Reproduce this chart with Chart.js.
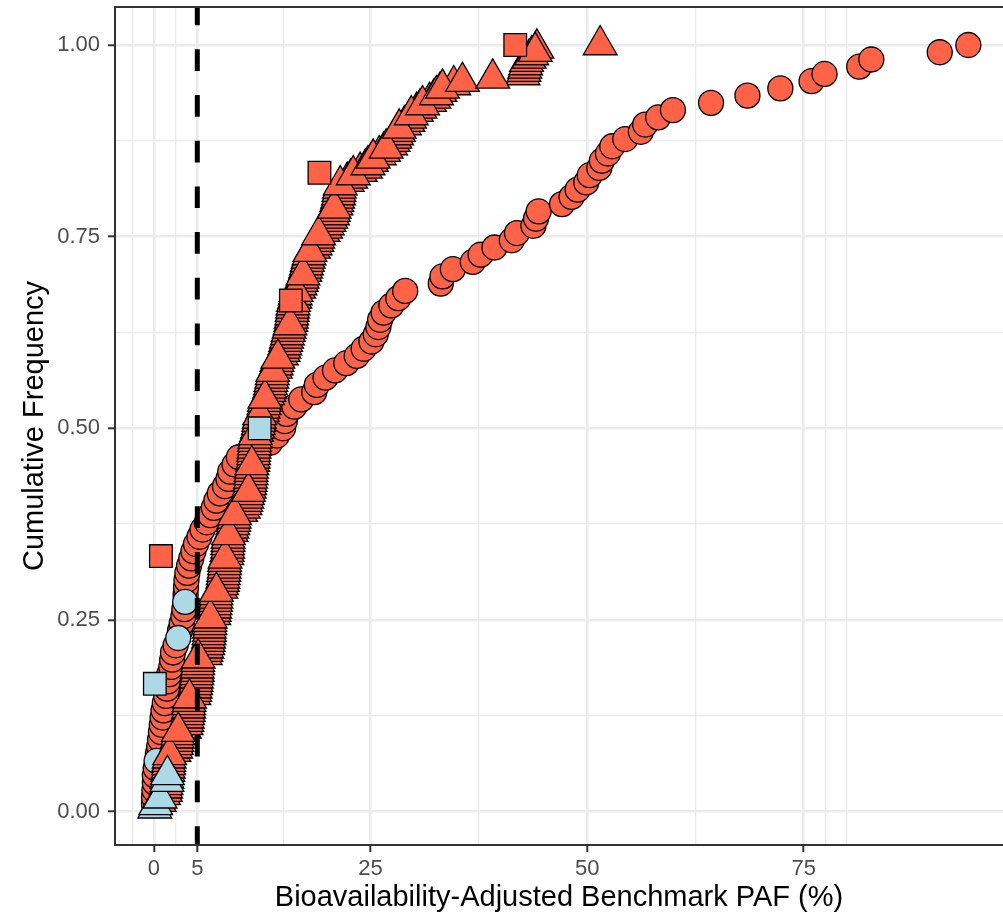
<!DOCTYPE html>
<html>
<head>
<meta charset="utf-8">
<script src="https://cdn.jsdelivr.net/npm/chart.js@4.4.1/dist/chart.umd.min.js"></script>
<style>
  html, body { margin: 0; padding: 0; background: #fff; overflow: hidden; }
  canvas { display: block; }
</style>
</head>
<body>
<canvas id="myChart" width="1003" height="914"></canvas>
<script>
// PAF values per shape group, sorted (cumulative frequency = rank / n)
const circleX = [
    0.0, 0.0, 0.05, 0.1, 0.1, 0.2, 0.3, 0.45, 0.6, 0.7,
    0.8, 0.9, 1.0, 1.1, 1.25, 1.4, 1.5, 1.6, 1.75, 2.0,
    2.1, 2.2, 2.5, 2.8, 3.0, 3.2, 3.4, 3.5, 3.6, 3.65,
    3.7, 3.75, 3.85, 4.05, 4.3, 4.55, 4.85, 5.25, 5.6, 6.1,
    6.5, 6.9, 7.2, 7.6, 8.2, 8.6, 8.8, 9.3, 9.8, 11.2,
    13.4, 14.2, 14.9, 15.1, 15.3, 16.2, 17.0, 18.5, 18.8, 19.8,
    20.9, 22.2, 23.4, 24.2, 25.1, 25.6, 25.9, 26.1, 26.5, 27.4,
    28.2, 29.0, 33.1, 33.3, 34.5, 36.8, 37.7, 39.3, 41.3, 41.9,
    43.8, 44.1, 44.4, 47.1, 48.2, 48.9, 49.9, 50.3, 51.4, 51.7,
    52.4, 52.9, 54.4, 56.2, 56.7, 58.2, 59.9, 64.3, 68.5, 72.3,
    75.9, 77.4, 81.4, 82.8, 90.7, 94.0
];
const circleBlue = [6, 23, 28]; // indices drawn light blue

const triangleX = [
    0.1, 0.2, 0.6, 0.7, 1.1, 1.3, 1.35, 1.4, 1.5, 1.5,
    1.55, 1.6, 1.65, 1.7, 1.7, 1.75, 1.8, 2.3, 2.5, 2.6,
    2.65, 2.7, 2.75, 2.8, 3.5, 3.7, 3.8, 3.85, 3.9, 3.95,
    4.0, 4.0, 4.05, 4.1, 4.6, 4.7, 4.75, 4.8, 4.85, 4.9,
    4.95, 5.0, 5.0, 5.05, 5.05, 5.1, 5.9, 6.0, 6.1, 6.2,
    6.25, 6.3, 6.35, 6.4, 6.4, 6.45, 6.45, 6.5, 6.9, 6.95,
    7.0, 7.05, 7.1, 7.15, 7.15, 7.2, 7.7, 7.8, 7.9, 7.95,
    8.0, 8.05, 8.1, 8.15, 8.15, 8.2, 8.4, 8.45, 8.5, 8.5,
    8.55, 8.55, 8.6, 8.9, 9.0, 9.1, 9.2, 9.25, 9.3, 10.0,
    10.3, 10.5, 10.6, 10.7, 10.8, 10.9, 11.0, 11.05, 11.1, 11.15,
    11.2, 11.2, 11.25, 11.3, 11.4, 11.45, 11.5, 11.5, 11.55, 11.6,
    11.6, 11.65, 11.7, 11.85, 11.95, 12.05, 12.1, 12.15, 12.2, 12.5,
    12.6, 12.7, 12.75, 12.8, 13.1, 13.25, 13.35, 13.45, 13.5, 13.6,
    13.65, 13.7, 14.0, 14.1, 14.2, 14.3, 14.7, 14.9, 15.0, 15.1,
    15.2, 15.3, 15.4, 15.5, 15.6, 15.7, 15.8, 15.85, 15.9, 15.95,
    16.0, 16.05, 16.1, 16.25, 16.3, 16.4, 16.7, 16.85, 17.0, 17.1,
    17.2, 17.4, 17.5, 17.6, 17.7, 17.8, 17.9, 18.0, 18.4, 18.6,
    18.8, 18.9, 19.0, 19.5, 19.8, 20.0, 20.2, 20.4, 20.6, 20.7,
    20.8, 21.0, 21.1, 21.2, 21.3, 21.35, 21.4, 21.5, 22.3, 22.7,
    23.0, 23.8, 24.4, 24.7, 25.1, 25.3, 26.0, 26.5, 26.8, 27.3,
    27.6, 27.8, 28.0, 28.2, 28.3, 28.9, 29.3, 29.5, 29.7, 30.3,
    30.7, 31.0, 31.8, 32.3, 32.6, 33.0, 33.3, 34.6, 35.6, 39.1,
    42.6, 42.7, 42.8, 42.9, 43.0, 43.3, 43.6, 44.0, 44.2, 51.5
];
const triangleBlue = [0, 1, 3, 8, 10];
// triangles that sit on top of their neighbours in the plot
const triangleFront = [16, 23, 33, 45, 57, 65, 75, 82, 88, 95, 103, 112, 118, 123, 131,
    135, 145, 152, 155, 160, 167, 172, 180, 187, 190, 193, 195, 198, 204, 208, 211,
    214, 216, 218, 219, 227, 229];

const squareX = [0.1, 0.8, 12.2, 15.8, 19.1, 41.7];
const squareBlue = [0, 2];

const xMajorTicks = [0, 5, 25, 50, 75];
const xMinorTicks = [-2.5, 2.5, 15, 37.5, 62.5, 77.5, 80];
const yMajorTicks = [0, 0.25, 0.5, 0.75, 1];
const yMinorTicks = [0.125, 0.375, 0.625, 0.875];
const cutoffPAF = 5;

const TOMATO = '#FF6347';
const LIGHTBLUE = '#ADD8E6';
const FONT = "'Liberation Sans', Arial, sans-serif";

// keep = function of index deciding which points go into this dataset
function cumulativePoints(xs, keep) {
    const n = xs.length;
    const pts = [];
    xs.forEach((x, i) => {
        if (keep(i)) pts.push({ x: x, y: (i + 1) / n });
    });
    return pts;
}

function pointSet(data, style, radius, color, order) {
    return {
        data: data,
        order: order,
        pointStyle: style,
        pointRadius: radius,
        pointHoverRadius: radius,
        pointBackgroundColor: color,
        pointBorderColor: '#000',
        pointBorderWidth: 1.3,
        showLine: false
    };
}

function isIn(list, v) {
    return list.some(t => Math.abs(t - v) < 1e-9);
}

// dashed cutoff line and panel border, drawn over the points like ggplot
const panelPlugin = {
    id: 'panel',
    afterDatasetsDraw(chart) {
        const { ctx, chartArea, scales } = chart;
        const px = scales.x.getPixelForValue(cutoffPAF);
        ctx.save();
        ctx.strokeStyle = '#000';
        ctx.lineWidth = 5;
        ctx.setLineDash([21.7, 24]);
        ctx.lineDashOffset = 3.4;
        ctx.beginPath();
        ctx.moveTo(px, chartArea.top);
        ctx.lineTo(px, chartArea.bottom);
        ctx.stroke();
        ctx.setLineDash([]);
        ctx.strokeStyle = '#333333';
        ctx.lineWidth = 2;
        ctx.strokeRect(chartArea.left, chartArea.top,
            chartArea.right - chartArea.left + 10, chartArea.bottom - chartArea.top);
        ctx.restore();
    }
};

const sqBlue = i => squareBlue.includes(i);
const triBlue = i => triangleBlue.includes(i);
const triFront = i => !triBlue(i) && triangleFront.includes(i);
const triBack = i => !triBlue(i) && !triangleFront.includes(i);
const cirBlue = i => circleBlue.includes(i);

const ctx = document.getElementById('myChart').getContext('2d');
new Chart(ctx, {
    type: 'scatter',
    data: {
        datasets: [
            pointSet(cumulativePoints(squareX, i => !sqBlue(i)), 'rect', 16, TOMATO, 0),
            pointSet(cumulativePoints(squareX, sqBlue), 'rect', 16, LIGHTBLUE, 0),
            pointSet(cumulativePoints(triangleX, triBlue), 'triangle', 19.5, LIGHTBLUE, 1),
            pointSet(cumulativePoints(triangleX, triFront), 'triangle', 19.5, TOMATO, 2),
            pointSet(cumulativePoints(triangleX, triBack), 'triangle', 19.5, TOMATO, 3),
            pointSet(cumulativePoints(circleX, cirBlue), 'circle', 12.5, LIGHTBLUE, 4),
            pointSet(cumulativePoints(circleX, i => !cirBlue(i)), 'circle', 12.5, TOMATO, 5)
        ]
    },
    options: {
        responsive: false,
        animation: false,
        events: [],
        layout: { autoPadding: false, padding: { top: 7, left: 0, right: 0, bottom: 0 } },
        plugins: {
            legend: { display: false },
            tooltip: { enabled: false }
        },
        scales: {
            x: {
                type: 'linear',
                min: -4.5,
                max: 98.0,
                afterBuildTicks(scale) {
                    scale.ticks = xMinorTicks.concat(xMajorTicks).sort((a, b) => a - b).map(v => ({ value: v }));
                },
                afterFit(scale) {
                    scale.height = 69;
                    scale.paddingLeft = 0;
                    scale.paddingRight = 0;
                },
                ticks: {
                    autoSkip: false,
                    maxRotation: 0,
                    padding: 4,
                    color: '#4D4D4D',
                    font: { family: FONT, size: 22 },
                    callback: (v) => isIn(xMajorTicks, v) ? String(v) : ''
                },
                grid: {
                    color: '#EBEBEB',
                    lineWidth: (c) => isIn(xMajorTicks, c.tick.value) ? 2.6 : 1.3,
                    tickColor: (c) => isIn(xMajorTicks, c.tick.value) ? '#333333' : 'rgba(0,0,0,0)',
                    tickWidth: 2,
                    tickLength: 7
                },
                border: { display: false },
                title: {
                    display: true,
                    text: 'Bioavailability-Adjusted Benchmark PAF (%)',
                    color: '#000',
                    font: { family: FONT, size: 29, lineHeight: 1.1 },
                    padding: { top: 0, bottom: 0 }
                }
            },
            y: {
                type: 'linear',
                min: -0.0436,
                max: 1.0496,
                afterBuildTicks(scale) {
                    scale.ticks = yMinorTicks.concat(yMajorTicks).sort((a, b) => a - b).map(v => ({ value: v }));
                },
                afterFit(scale) {
                    scale.width = 115;
                    scale.paddingTop = 0;
                    scale.paddingBottom = 0;
                },
                ticks: {
                    autoSkip: false,
                    padding: 8,
                    color: '#4D4D4D',
                    font: { family: FONT, size: 22 },
                    callback: (v) => isIn(yMajorTicks, v) ? v.toFixed(2) : ''
                },
                grid: {
                    color: '#EBEBEB',
                    lineWidth: (c) => isIn(yMajorTicks, c.tick.value) ? 2.6 : 1.3,
                    tickColor: (c) => isIn(yMajorTicks, c.tick.value) ? '#333333' : 'rgba(0,0,0,0)',
                    tickWidth: 2,
                    tickLength: 7
                },
                border: { display: false },
                title: {
                    display: true,
                    text: 'Cumulative Frequency',
                    color: '#000',
                    font: { family: FONT, size: 29, lineHeight: 1.2 },
                    padding: { top: 18, bottom: 0 }
                }
            }
        }
    },
    plugins: [panelPlugin]
});
</script>
</body>
</html>
